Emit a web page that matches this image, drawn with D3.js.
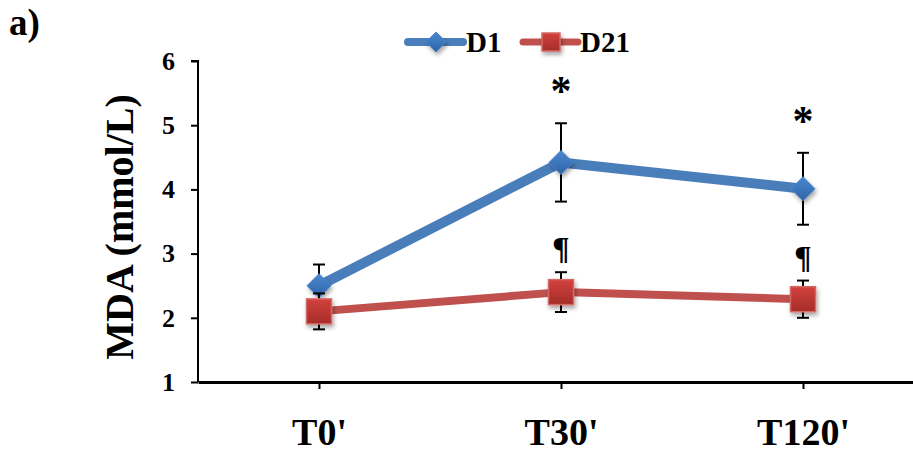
<!DOCTYPE html>
<html>
<head>
<meta charset="utf-8">
<script src="https://cdn.jsdelivr.net/npm/d3@7"></script>
<style>
  html, body { margin: 0; padding: 0; background: #fff; }
  svg { display: block; }
  text { font-family: "Times New Roman", "Liberation Serif", Tinos, Times, serif; }
</style>
</head>
<body>
<svg id="chart" width="913" height="453"></svg>
<script>
const categories = ["T0'", "T30'", "T120'"];
const d1Values = [2.5, 4.42, 4.01];
const d1Errors = [0.33, 0.61, 0.56];
const d21Values = [2.1, 2.4, 2.29];
const d21Errors = [0.28, 0.31, 0.29];
const d1Marks = ["", "*", "*"];
const d21Marks = ["", "¶", "¶"];
const yTicks = [1, 2, 3, 4, 5, 6];
const seriesNames = ["D1", "D21"];

const svg = d3.select("#chart");
const defs = svg.append("defs");

const shadow = defs.append("filter").attr("id", "shadow")
  .attr("x", "-50%").attr("y", "-50%").attr("width", "200%").attr("height", "200%");
shadow.append("feDropShadow").attr("dx", 1.5).attr("dy", 3).attr("stdDeviation", 2)
  .attr("flood-color", "#000").attr("flood-opacity", 0.35);

const gBlue = defs.append("linearGradient").attr("id", "gBlue").attr("x1", 0).attr("y1", 0).attr("x2", 0).attr("y2", 1);
gBlue.append("stop").attr("offset", "0%").attr("stop-color", "#4a88d0");
gBlue.append("stop").attr("offset", "100%").attr("stop-color", "#2e63a6");
const gRed = defs.append("linearGradient").attr("id", "gRed").attr("x1", 0).attr("y1", 0).attr("x2", 0).attr("y2", 1);
gRed.append("stop").attr("offset", "0%").attr("stop-color", "#d2413d");
gRed.append("stop").attr("offset", "100%").attr("stop-color", "#a52d2a");

const x = d3.scalePoint().domain(categories).range([198, 924]).padding(0.5);
const y = d3.scaleLinear().domain([1, 6]).range([382, 61]);

// Y axis
const yAxis = svg.append("g").attr("transform", "translate(198,0)")
  .call(d3.axisLeft(y).tickValues(yTicks).tickSize(7).tickPadding(16).tickFormat(d3.format("d")));
yAxis.attr("font-family", null);
yAxis.select(".domain").attr("stroke", "#000").attr("stroke-width", 2).attr("d", "M-7,61H0V382");
yAxis.selectAll(".tick line").attr("stroke", "#000").attr("stroke-width", 2);
yAxis.selectAll(".tick text").attr("fill", "#000").attr("font-size", 26).attr("font-weight", "bold");

// X axis
const xAxis = svg.append("g").attr("transform", "translate(0,382)")
  .call(d3.axisBottom(x).tickSize(7).tickSizeOuter(0).tickPadding(0));
xAxis.attr("font-family", null);
xAxis.select(".domain").attr("stroke", "#000").attr("stroke-width", 3);
xAxis.selectAll(".tick line").attr("stroke", "#000").attr("stroke-width", 2);
xAxis.selectAll(".tick text").attr("fill", "#000").attr("font-size", 38).attr("font-weight", "bold")
  .attr("dy", null).attr("y", 63);

// Y title
svg.append("text").attr("transform", "translate(133,227) rotate(-90)")
  .attr("text-anchor", "middle").attr("font-size", 40).attr("font-weight", "bold")
  .text("MDA (mmol/L)");

// panel label
svg.append("text").attr("x", 9).attr("y", 35).attr("font-size", 37).attr("font-weight", "bold").text("a)");

const series = [
  { name: seriesNames[0], values: d1Values, errors: d1Errors, marks: d1Marks, line: "#4a7ebb", width: 10, shape: "diamond", fill: "url(#gBlue)", stroke: "#4a86cc", markOffset: 32, markSize: 42, markWeight: "bold" },
  { name: seriesNames[1], values: d21Values, errors: d21Errors, marks: d21Marks, line: "#c0504d", width: 8, shape: "square", fill: "url(#gRed)", stroke: "#d46a66", markOffset: 24, markSize: 32, markWeight: "bold" }
];

const lineGen = d3.line().x((d, i) => x(categories[i])).y(d => y(d));

function drawMarker(g, shape, fill, stroke, cx, cy, size) {
  if (shape === "diamond") {
    const r = size / 2;
    g.append("path").attr("d", `M${cx},${cy - r}L${cx + r},${cy}L${cx},${cy + r}L${cx - r},${cy}Z`)
      .attr("fill", fill).attr("stroke", stroke).attr("stroke-width", 1).attr("filter", "url(#shadow)");
  } else {
    g.append("rect").attr("x", cx - size / 2).attr("y", cy - size / 2).attr("width", size).attr("height", size)
      .attr("fill", fill).attr("stroke", stroke).attr("stroke-width", 1.5).attr("filter", "url(#shadow)");
  }
}

series.forEach(s => {
  const g = svg.append("g");
  g.append("path").datum(s.values).attr("d", lineGen).attr("fill", "none")
    .attr("stroke", s.line).attr("stroke-width", s.width).attr("stroke-linejoin", "round");
  s.values.forEach((v, i) => {
    const cx = x(categories[i]);
    const top = y(v + s.errors[i]), bot = y(v - s.errors[i]);
    g.append("line").attr("x1", cx).attr("x2", cx).attr("y1", top).attr("y2", bot)
      .attr("stroke", "#000").attr("stroke-width", 2);
    [top, bot].forEach(yy => g.append("line").attr("x1", cx - 6).attr("x2", cx + 6).attr("y1", yy).attr("y2", yy)
      .attr("stroke", "#000").attr("stroke-width", 2));
  });
  s.values.forEach((v, i) => {
    drawMarker(g, s.shape, s.fill, s.stroke, x(categories[i]), y(v), s.shape === "diamond" ? 24 : 25);
  });
  s.marks.forEach((m, i) => {
    if (!m) return;
    const cx = x(categories[i]);
    const cy = y(s.values[i] + s.errors[i]) - s.markOffset;
    g.append("text").attr("x", cx).attr("y", cy).attr("text-anchor", "middle")
      .attr("dominant-baseline", "central").attr("font-size", s.markSize)
      .attr("font-weight", s.markWeight).text(m);
  });
});

// Legend
const legend = [
  { name: seriesNames[0], x0: 408, line: "#4a7ebb", width: 8, shape: "diamond", fill: "url(#gBlue)", stroke: "#4a86cc", tx: 466 },
  { name: seriesNames[1], x0: 523, line: "#c0504d", width: 7, shape: "square", fill: "url(#gRed)", stroke: "#d46a66", tx: 580 }
];
legend.forEach(l => {
  const g = svg.append("g");
  g.append("line").attr("x1", l.x0).attr("x2", l.x0 + 55).attr("y1", 42).attr("y2", 42)
    .attr("stroke", l.line).attr("stroke-width", l.width).attr("stroke-linecap", "round");
  drawMarker(g, l.shape, l.fill, l.stroke, l.x0 + 28, 42, l.shape === "diamond" ? 20 : 18);
  g.append("text").attr("x", l.tx).attr("y", 52).attr("font-size", 29).attr("font-weight", "bold").text(l.name);
});
</script>
</body>
</html>
